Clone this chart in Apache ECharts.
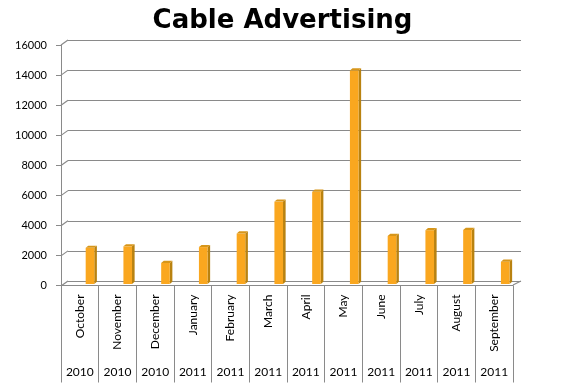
<!DOCTYPE html>
<html>
<head>
<meta charset="utf-8">
<script src="https://cdn.jsdelivr.net/npm/echarts@6/dist/echarts.min.js"></script>
<style>html,body{margin:0;padding:0;background:#fff}#c{width:565px;height:391px}</style>
</head>
<body>
<div id="c"></div>
<script>
const months = ['October','November','December','January','February','March','April','May','June','July','August','September'];
const years = ['2010','2010','2010','2011','2011','2011','2011','2011','2011','2011','2011','2011'];
const values = [2400, 2500, 1400, 2450, 3350, 5470, 6130, 14170, 3190, 3570, 3590, 1480];
const yTicks = [0,2000,4000,6000,8000,10000,12000,14000,16000];

const chart = echarts.init(document.getElementById('c'), null, {renderer:'canvas'});
const GRID = '#8a8a8a';
const labelFont = 'Lato, "Open Sans", sans-serif';

function barItem(params, api){
  const i = api.value(0), v = api.value(1);
  const p = api.coord([i, v]);
  const b = api.coord([i, 0]);
  const fx0 = p[0] - 1.2, fx1 = p[0] + 7.4, d = 2.6, dy = 2.2;
  const top = p[1] + 3, bot = b[1] + 3;
  return {type:'group', children:[
    {type:'polygon', shape:{points:[[fx1,top],[fx1+d,top-dy],[fx1+d,bot-dy],[fx1,bot]]}, style:{fill:'#b98210'}},
    {type:'rect', shape:{x:fx0, y:top, width:fx1-fx0, height:bot-top}, style:{fill:'#faa71f'}},
    {type:'polygon', shape:{points:[[fx0,top],[fx0+d,top-dy],[fx1+d,top-dy],[fx1,top]]}, style:{fill:'#d7961a'}}
  ]};
}

function slantItem(params, api){
  const v = api.value(0);
  const p = api.coord([0, v]);
  const half = api.size([1, 0])[0] / 2;
  const x0 = p[0] - half;
  const children = [{type:'line', shape:{x1:x0, y1:p[1], x2:x0-7, y2:p[1]+5}, style:{stroke:GRID, lineWidth:1.2}}];
  if (v === 0) {
    const q = api.coord([months.length - 1, 0]);
    const xr = q[0] + half;
    children.push({type:'line', shape:{x1:xr, y1:q[1], x2:xr-8, y2:q[1]+4}, style:{stroke:GRID, lineWidth:1.2}});
  }
  return {type:'group', children};
}

chart.setOption({
  backgroundColor:'#fff',
  animation:false,
  title:{text:'Cable Advertising', left:'center', top:3,
    textStyle:{fontFamily:'"DejaVu Sans", sans-serif', fontWeight:'bold', fontSize:26, color:'#000'}},
  grid:[
    {left:68, right:44, top:40, bottom:110},
    {left:61, right:52, top:45, bottom:105.5}
  ],
  xAxis:[
    {gridIndex:0, type:'category', data:months, show:false},
    {gridIndex:1, type:'category', data:months, position:'bottom',
      axisLine:{show:true, lineStyle:{color:GRID}},
      axisTick:{show:true, interval:0, length:97, lineStyle:{color:GRID}},
      axisLabel:{interval:0, rotate:90, margin:9, color:'#000', fontSize:12, fontFamily:labelFont}},
    {gridIndex:1, type:'category', data:years, position:'bottom',
      axisLine:{show:false}, axisTick:{show:false},
      axisLabel:{interval:0, margin:81, color:'#000', fontSize:12, fontFamily:labelFont}}
  ],
  yAxis:[
    {gridIndex:0, type:'value', min:0, max:16000, interval:2000,
      axisLine:{show:false}, axisTick:{show:false}, axisLabel:{show:false},
      splitLine:{show:true, lineStyle:{color:GRID, width:1.2}}},
    {gridIndex:1, type:'value', min:0, max:16000, interval:2000,
      axisLine:{show:true, lineStyle:{color:GRID}},
      axisTick:{show:true, length:5, lineStyle:{color:GRID}},
      axisLabel:{margin:14, color:'#000', fontSize:11, fontFamily:labelFont, formatter:v=>String(v)},
      splitLine:{show:false}}
  ],
  series:[
    {type:'custom', xAxisIndex:0, yAxisIndex:0, renderItem:slantItem, data:yTicks.map(v=>[v]), encode:{y:0}, silent:true, clip:false, z:1},
    {type:'custom', xAxisIndex:0, yAxisIndex:0, renderItem:barItem, data:values.map((v,i)=>[i,v]), encode:{x:0,y:1}, silent:true, clip:false, z:5}
  ]
});
</script>
</body>
</html>
